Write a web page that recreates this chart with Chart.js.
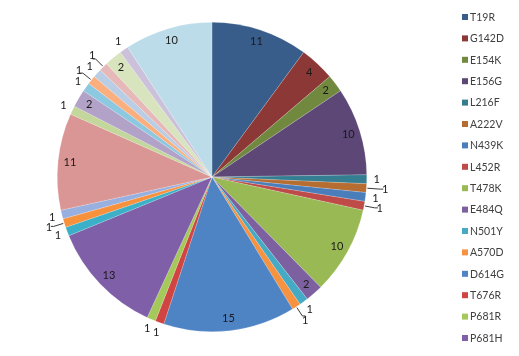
<!DOCTYPE html>
<html><head><meta charset="utf-8">
<script src="https://cdn.jsdelivr.net/npm/chart.js@4/dist/chart.umd.min.js"></script>
<style>html,body{margin:0;padding:0;background:#fff;overflow:hidden}</style>
</head><body>
<canvas id="c" width="519" height="356"></canvas>
<script>
// Categories (legend of the reference only shows the first 16; the rest are cut off)
const mutations = ["T19R","G142D","E154K","E156G","L216F","A222V","N439K","L452R",
  "T478K","E484Q","N501Y","A570D","D614G","T676R","P681R","P681H"];
const unlabelledCategories = ["Other 1","Other 2","Other 3","Other 4","Other 5","Other 6",
  "Other 7","Other 8","Other 9","Other 10","Other 11","Other 12","Other 13"];
// Series values (slice counts, clockwise from 12 o'clock)
const counts = [11,4,2,10,1,1,1,1,10,2,1,1,15,1,1,13,
  1,1,1,11,1,2,1,1,1,1,2,1,10];
const sliceColors = [
  "#385d8a","#8c3836","#71893f","#5c4776","#357d91","#b66d31",
  "#4a7ebb","#be4b48","#98b954","#7d60a0","#46aac5","#f69240",
  "#4f84c4","#d04442","#a5c85a","#7f5fa8","#3cb0c8","#f8913c",
  "#98b0e0","#da9694","#c3d69b","#b3a2c7","#8cc8e0","#fbae7e",
  "#b9cde5","#e6b9b8","#d7e4bd","#ccc1da","#bddcea"];

const labels = mutations.concat(unlabelledCategories);

const valueLabels = {
  id: 'valueLabels',
  afterDatasetsDraw(chart) {
    const ctx = chart.ctx;
    const meta = chart.getDatasetMeta(0);
    const data = chart.data.datasets[0].data;
    ctx.save();
    ctx.font = '11px Lato';
    ctx.fillStyle = '#1a1a1a';
    ctx.textAlign = 'center';
    ctx.textBaseline = 'middle';
    const boxes = [];
    const overlaps = (b) => boxes.some(o => Math.abs(o.x - b.x) < (o.w + b.w) / 2 && Math.abs(o.y - b.y) < (o.h + b.h) / 2);
    const items = [];
    meta.data.forEach((arc, i) => {
      const p = arc.getProps(['x','y','startAngle','endAngle','outerRadius'], true);
      const mid = (p.startAngle + p.endAngle) / 2;
      const txt = String(data[i]);
      const w = ctx.measureText(txt).width + 2;
      const h = 10;
      const inside = data[i] >= 2;
      items.push({p, mid, txt, w, h, inside});
    });
    items.filter(it => it.inside).forEach(it => {
      const d = it.p.outerRadius - 12;
      const b = {x: it.p.x + Math.cos(it.mid) * d, y: it.p.y + Math.sin(it.mid) * d, w: it.w, h: it.h};
      boxes.push(b);
      ctx.fillText(it.txt, b.x, b.y);
    });
    ctx.strokeStyle = '#3a3a3a';
    ctx.lineWidth = 1;
    items.filter(it => !it.inside).forEach(it => {
      let extra = 10;
      let b;
      for (;;) {
        const d = it.p.outerRadius + extra;
        b = {x: it.p.x + Math.cos(it.mid) * d, y: it.p.y + Math.sin(it.mid) * d, w: it.w, h: it.h};
        if (!overlaps(b) || extra > 40) break;
        extra += 3;
      }
      boxes.push(b);
      if (extra > 10) {
        const r0 = it.p.outerRadius + 1;
        const sx = it.p.x + Math.cos(it.mid) * r0, sy = it.p.y + Math.sin(it.mid) * r0;
        const ex = b.x - Math.cos(it.mid) * 5, ey = b.y - Math.sin(it.mid) * 5;
        ctx.beginPath();
        ctx.moveTo(sx, sy);
        ctx.lineTo(ex, ey);
        ctx.lineTo(ex + (Math.cos(it.mid) >= 0 ? 3 : -3), ey);
        ctx.stroke();
      }
      ctx.fillText(it.txt, b.x, b.y);
    });
    ctx.restore();
  }
};

const sideLegend = {
  id: 'sideLegend',
  afterDraw(chart) {
    const ctx = chart.ctx;
    const ds = chart.data.datasets[0];
    ctx.save();
    ctx.font = '10.5px Lato';
    ctx.textBaseline = 'middle';
    ctx.textAlign = 'left';
    const x0 = 462, y0 = 17, step = 21.4;
    chart.data.labels.forEach((lab, i) => {
      const y = y0 + i * step;
      if (y + 5 > chart.height) return;
      ctx.fillStyle = ds.backgroundColor[i];
      ctx.fillRect(x0, y - 3, 6, 6);
      ctx.fillStyle = '#404040';
      ctx.fillText(lab, x0 + 8, y + 0.5);
    });
    ctx.restore();
  }
};

new Chart(document.getElementById('c'), {
  type: 'pie',
  data: {
    labels: labels,
    datasets: [{
      data: counts,
      backgroundColor: sliceColors,
      borderColor: 'rgba(255,255,255,0.35)',
      borderWidth: 0.5
    }]
  },
  options: {
    responsive: false,
    animation: false,
    devicePixelRatio: 1,
    layout: { padding: { left: 57, right: 152, top: 22, bottom: 24 } },
    plugins: {
      legend: { display: false },
      tooltip: { enabled: false }
    }
  },
  plugins: [valueLabels, sideLegend]
});
</script>
</body></html>
